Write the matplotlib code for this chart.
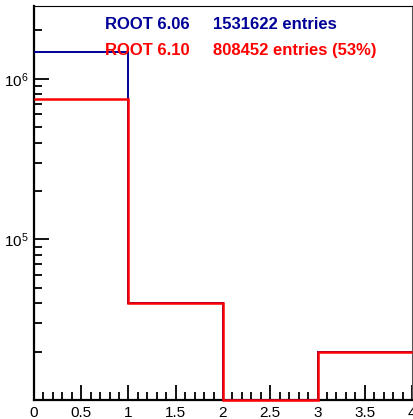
import matplotlib
matplotlib.use('Agg')
import matplotlib.pyplot as plt
from matplotlib.ticker import LogLocator, MultipleLocator, NullFormatter, FixedLocator
import numpy as np

# histogram contents, bins of width 1 from 0 to 4
bin_edges = [0, 1, 2, 3, 4]
counts_606 = [1471622, 40000, 0, 20000]
counts_610 = [748452, 40000, 0, 20000]

label_606 = 'ROOT 6.06'
label_610 = 'ROOT 6.10'
entries_606 = '1531622 entries'
entries_610 = '808452 entries (53%)'

ymin, ymax = 1.0e4, 2.84e6

plt.rcParams['font.family'] = ['Liberation Sans', 'DejaVu Sans']
plt.rcParams['mathtext.default'] = 'regular'

fig = plt.figure(figsize=(4.13, 4.19), dpi=100)
ax = fig.add_axes([0.0823, 0.0453, 0.9153, 0.9404])

# ROOT draws empty bins on the frame bottom
blue = np.clip(np.array(counts_606, dtype=float), ymin, None)
red = np.clip(np.array(counts_610, dtype=float), ymin, None)
ax.stairs(blue, bin_edges, color='#000099', lw=1.4, baseline=None, clip_on=False, zorder=3)
ax.stairs(red, bin_edges, color='#ff0000', lw=1.8, baseline=None, clip_on=False, zorder=4)

ax.set_yscale('log')
ax.set_xlim(0, 4)
ax.set_ylim(ymin, ymax)

ax.xaxis.set_minor_locator(MultipleLocator(0.1))
ax.set_xticks([0, 0.5, 1, 1.5, 2, 2.5, 3, 3.5, 4])
ax.set_xticklabels(['0', '0.5', '1', '1.5', '2', '2.5', '3', '3.5', '4'])

ax.yaxis.set_major_locator(FixedLocator([1e5, 1e6]))
ax.yaxis.set_minor_locator(LogLocator(base=10, subs=np.arange(2, 10), numticks=20))
ax.yaxis.set_minor_formatter(NullFormatter())
ax.set_yticklabels([r'$10^5$', r'$10^6$'])

ax.tick_params(which='both', direction='in', top=False, right=False,
               width=1.3, labelsize=11, color='black')
ax.tick_params(which='major', length=11, pad=4)
ax.tick_params(which='minor', length=5.5)

ax.spines['left'].set_linewidth(1.6)
ax.spines['bottom'].set_linewidth(1.6)
ax.spines['top'].set_linewidth(0.8)
ax.spines['right'].set_linewidth(0.8)
ax.spines['right'].set_color('#555555')

kw = dict(transform=ax.transAxes, fontsize=12, fontweight='bold', va='center')
ax.text(0.188, 0.954, label_606, color='#000099', **kw)
ax.text(0.474, 0.954, entries_606, color='#000099', **kw)
ax.text(0.188, 0.888, label_610, color='#ff0000', **kw)
ax.text(0.474, 0.888, entries_610, color='#ff0000', **kw)

fig.savefig('out.png', dpi=100)
